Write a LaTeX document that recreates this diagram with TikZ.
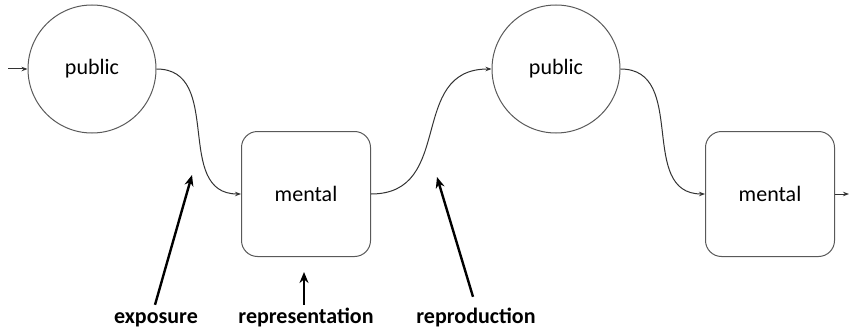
\documentclass[tikz,border=0pt]{standalone}
\usepackage{fontspec}
\setmainfont{Carlito}
\usetikzlibrary{arrows.meta}

\begin{document}
\begin{tikzpicture}[x=1pt,y=-1pt,
    public/.style={circle, draw=black!65, line width=1pt, minimum size=128pt,
        inner sep=0pt, font=\fontsize{22}{26}\selectfont},
    mental/.style={rectangle, rounded corners=16pt, draw=black!65, line width=1pt,
        minimum width=129pt, minimum height=125pt, inner sep=0pt,
        font=\fontsize{22}{26}\selectfont},
    flow/.style={draw=black!80, line width=1pt, -{Stealth[length=6pt,width=4.5pt]}},
    stage/.style={font=\bfseries\fontsize{22}{26}\selectfont, anchor=base,
        text height=16pt, text depth=5pt, inner sep=2pt},
    pointer/.style={draw=black, line width=2.4pt, -{Stealth[length=11pt,width=9pt]}}]
    \useasboundingbox (0,0) rectangle (850,334);

    % Draw the states
    \node[public] (pub1) at (92,69) {public};
    \node[mental] (ment1) at (306,194) {mental};
    \node[public] (pub2) at (556,69) {public};
    \node[mental] (ment2) at (770,194) {mental};

    % Draw the flow between the states
    \coordinate (start) at (8,69);
    \coordinate (finish) at (849,194);
    \draw[flow] (start) -- (pub1);
    \draw[flow] (pub1.east) to[out=0, in=180, looseness=1.15] (ment1.west);
    \draw[flow] (ment1.east) to[out=0, in=180, looseness=1.25] (pub2.west);
    \draw[flow] (pub2.east) to[out=0, in=180, looseness=1.15] (ment2.west);
    \draw[flow] (ment2.east) -- (finish);

    % Label the stages
    \node[stage] (expo) at (156,323) {exposure};
    \node[stage] (repr) at (306,323) {representation};
    \node[stage] (repro) at (476,323) {reproduction};

    \coordinate (expotip) at (192,175);
    \coordinate (reprtip) at (304,272);
    \coordinate (reprotip) at (437,177);
    \draw[pointer] ([xshift=-1pt]expo.north) -- (expotip);
    \draw[pointer] ([xshift=-2pt]repr.north) -- (reprtip);
    \draw[pointer] ([xshift=-3pt,yshift=8pt]repro.north) -- (reprotip);
\end{tikzpicture}
\end{document}
